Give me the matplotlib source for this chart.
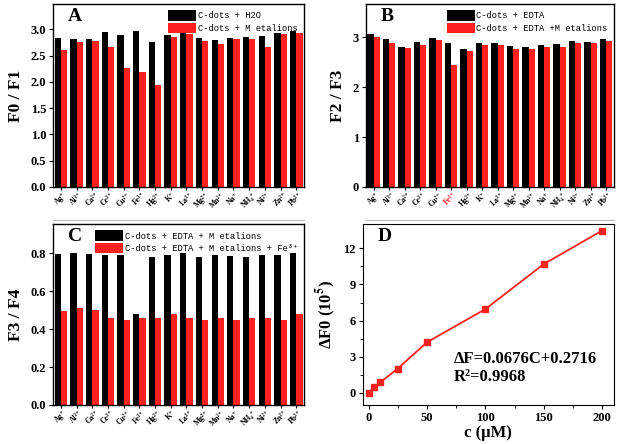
import numpy as np
import matplotlib.pyplot as plt
from matplotlib.lines import Line2D
from matplotlib.patches import Patch

plt.rcParams['font.family'] = ['Liberation Serif', 'DejaVu Serif']
plt.rcParams['font.weight'] = 'bold'
plt.rcParams['mathtext.fontset'] = 'stix'

ions = ['Ag⁺', 'Al³⁺', 'Ca²⁺', 'Ce³⁺', 'Cu²⁺', 'Fe³⁺', 'Hg²⁺', 'K⁺',
        'La³⁺', 'Mg²⁺', 'Mn²⁺', 'Na⁺', 'NH₄⁺', 'Ni²⁺', 'Zn²⁺', 'Pb²⁺']

# Panel A: F0 / F1
a_water = [2.83, 2.82, 2.81, 2.95, 2.89, 2.96, 2.76, 2.89,
           2.92, 2.83, 2.79, 2.84, 2.86, 2.87, 2.92, 2.96]
a_metal = [2.60, 2.76, 2.78, 2.66, 2.26, 2.19, 1.94, 2.85,
           2.90, 2.78, 2.72, 2.81, 2.81, 2.66, 2.90, 2.92]

# Panel B: F2 / F3
b_edta = [3.06, 2.96, 2.81, 2.90, 2.98, 2.89, 2.76, 2.89,
          2.89, 2.83, 2.81, 2.84, 2.86, 2.92, 2.90, 2.96]
b_metal = [3.01, 2.89, 2.78, 2.85, 2.94, 2.44, 2.72, 2.85,
           2.85, 2.77, 2.76, 2.81, 2.81, 2.89, 2.89, 2.92]

# Panel C: F3 / F4
c_metal = [0.795, 0.80, 0.795, 0.793, 0.79, 0.48, 0.78, 0.79,
           0.80, 0.78, 0.79, 0.788, 0.78, 0.79, 0.79, 0.80]
c_fe = [0.497, 0.51, 0.50, 0.457, 0.45, 0.46, 0.46, 0.48,
        0.46, 0.45, 0.46, 0.45, 0.46, 0.46, 0.45, 0.48]

# Panel D: calibration
conc = [0, 5, 10, 25, 50, 100, 150, 200]
dF0 = [0.0, 0.49, 0.87, 2.02, 4.2, 6.95, 10.69, 13.47]

RED = '#ff2020'
mono = ['Liberation Mono', 'DejaVu Sans Mono']

fig = plt.figure(figsize=(6.2, 4.44), dpi=100)
axA = fig.add_axes([0.0855, 0.579, 0.405, 0.412])
axB = fig.add_axes([0.590, 0.579, 0.400, 0.412])
axC = fig.add_axes([0.0855, 0.088, 0.405, 0.407])
axD = fig.add_axes([0.585, 0.088, 0.405, 0.407])


def bar_panel(ax, black, red, labels, ylim, yticks, yfmt, ylabel, letter):
    x = np.arange(len(ions))
    w = 0.4
    ax.bar(x - w / 2, black, w, color='black')
    ax.bar(x + w / 2, red, w, color=RED)
    ax.set_xlim(-0.5, len(ions) - 0.5)
    ax.set_ylim(*ylim)
    ax.set_yticks(yticks)
    ax.set_yticklabels([yfmt.format(v) for v in yticks], fontsize=9, fontweight='bold')
    ax.set_xticks(x)
    ax.set_xticklabels(ions, rotation=45, fontsize=5.5, fontweight='bold',
                       ha='center', va='top')
    ax.tick_params(axis='x', length=2, pad=1)
    ax.tick_params(axis='y', length=3, pad=2)
    ax.set_ylabel(ylabel, fontsize=12.5, fontweight='bold', labelpad=5)
    ax.text(0.06, 0.93, letter, transform=ax.transAxes, fontsize=14,
            fontweight='bold', va='center')
    handles = [Patch(facecolor='black'), Patch(facecolor=RED)]
    ax.legend(handles, labels, loc='upper right', frameon=False,
              prop={'family': mono, 'size': 6.3, 'weight': 'normal'},
              handlelength=3.2, handleheight=1.5, borderaxespad=0.3,
              labelspacing=0.2, handletextpad=0.2)
    for s in ax.spines.values():
        s.set_linewidth(1.0)


bar_panel(axA, a_water, a_metal, ['C-dots + H2O', 'C-dots + M etalions'],
          (0, 3.48), [0, 0.5, 1.0, 1.5, 2.0, 2.5, 3.0], '{:.1f}', 'F0 / F1', 'A')
bar_panel(axB, b_edta, b_metal, ['C-dots + EDTA', 'C-dots + EDTA +M etalions'],
          (0, 3.67), [0, 1, 2, 3], '{:d}', 'F2 / F3', 'B')
axB.get_xticklabels()[5].set_color(RED)
bar_panel(axC, c_metal, c_fe,
          ['C-dots + EDTA + M etalions', 'C-dots + EDTA + M etalions + Fe³⁺'],
          (0, 0.953), [0, 0.2, 0.4, 0.6, 0.8], '{:.1f}', 'F3 / F4', 'C')

# Panel D
axD.plot(conc, dF0, color=RED, lw=1.3, marker='s', ms=4.5)
axD.set_xlim(-5, 210)
axD.set_ylim(-1, 14)
axD.set_xticks([0, 50, 100, 150, 200])
axD.set_xticks([25, 75, 125, 175], minor=True)
axD.set_yticks([0, 3, 6, 9, 12])
axD.set_yticks([1.5, 4.5, 7.5, 10.5], minor=True)
axD.tick_params(labelsize=9, length=3, pad=2)
axD.tick_params(which='minor', length=2)
for lab in axD.get_xticklabels() + axD.get_yticklabels():
    lab.set_fontweight('bold')
axD.set_xlabel('c (μM)', fontsize=12, fontweight='bold', labelpad=1)
axD.set_ylabel(r'ΔF0 (10$^{\mathbf{5}}$)', fontsize=12, fontweight='bold', labelpad=4)
axD.text(0.06, 0.93, 'D', transform=axD.transAxes, fontsize=14,
         fontweight='bold', va='center')
axD.text(73, 2.8, 'ΔF=0.0676C+0.2716', fontsize=12, fontweight='bold', va='center')
axD.text(73, 1.35, 'R²=0.9968', fontsize=12, fontweight='bold', va='center')

# thin separator line under the top row
fig.add_artist(Line2D([53 / 620, 304 / 620], [1 - 220 / 444] * 2,
                      color='#bbbbbb', lw=0.8))
fig.add_artist(Line2D([366 / 620, 614 / 620], [1 - 220 / 444] * 2,
                      color='#bbbbbb', lw=0.8))

fig.savefig('out.png', dpi=100)
